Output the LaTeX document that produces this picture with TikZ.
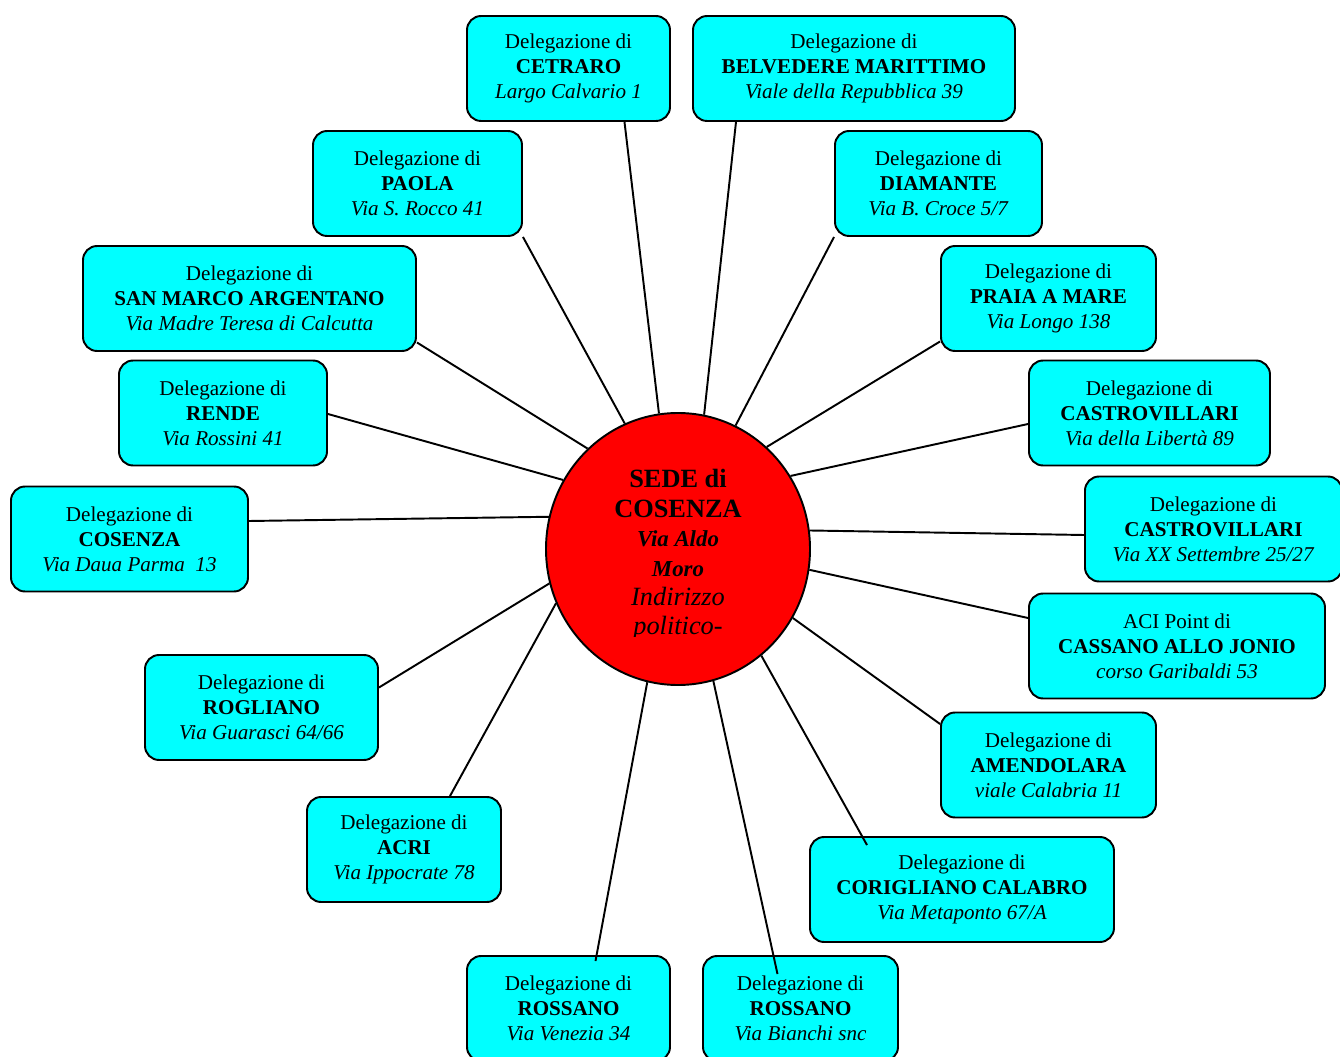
\documentclass[tikz,border=0pt]{standalone}
\usepackage{fontspec}
\setmainfont{Liberation Serif}
\usetikzlibrary{calc,shapes.geometric}
\definecolor{delegcyan}{RGB}{0,255,255}
\definecolor{sedered}{RGB}{255,0,0}
\tikzset{
  deleg/.style={draw, line width=1.1pt, fill=delegcyan, rounded corners=8pt, align=center,
    inner sep=0pt, font=\fontsize{12}{14.2}\selectfont},
  sede/.style={ellipse, draw, line width=1.1pt, fill=sedered, inner sep=0pt},
  sedetext/.style={align=center, inner sep=0pt, font=\fontsize{15}{16.7}\selectfont},
  link/.style={line width=1.1pt},
}
\begin{document}
\begin{tikzpicture}[x=0.02cm,y=-0.02cm]
  \clip (0,0) rectangle (1340,1057);
  % #1 name, #2 x, #3 y, #4 width, #5 first line, #6 place, #7 address
  \def\dlg#1#2#3#4#5#6#7{
    \node[deleg, minimum width=#4*0.02cm, minimum height=2.1cm] (#1) at (#2,#3) {#5\\\textbf{#6}\\\textit{#7}};
  }

  \dlg{cetraro}{568.5}{68.5}{203}{Delegazione di}{CETRARO}{Largo Calvario 1}
  \dlg{belvedere}{854}{68.5}{322}{Delegazione di}{BELVEDERE MARITTIMO}{Viale della Repubblica 39}
  \dlg{paola}{417.5}{183.5}{209}{Delegazione di}{PAOLA}{Via S. Rocco 41}
  \dlg{diamante}{938.5}{183.5}{207}{Delegazione di}{DIAMANTE}{Via B. Croce 5/7}
  \dlg{sanmarco}{249.5}{298.5}{333}{Delegazione di}{SAN MARCO ARGENTANO}{Via Madre Teresa di Calcutta}
  \dlg{praia}{1048.5}{298.5}{215}{Delegazione di}{PRAIA A MARE}{Via Longo 138}
  \dlg{rende}{223}{413}{208}{Delegazione di}{RENDE}{Via Rossini 41}
  \dlg{castrovillari}{1149.5}{413}{241}{Delegazione di}{CASTROVILLARI}{Via della Libertà 89}
  \dlg{cosenza}{129.5}{539}{237}{Delegazione di}{COSENZA}{Via Daua Parma~ 13}
  \dlg{castrosett}{1213.5}{529}{257}{Delegazione di}{CASTROVILLARI}{Via XX Settembre 25/27}
  \dlg{cassano}{1177}{646}{296}{ACI Point di}{CASSANO ALLO JONIO}{corso Garibaldi 53}
  \dlg{rogliano}{261.5}{707.5}{233}{Delegazione di}{ROGLIANO}{Via Guarasci 64/66}
  \dlg{amendolara}{1048.5}{765}{215}{Delegazione di}{AMENDOLARA}{viale Calabria 11}
  \dlg{acri}{404}{849.5}{194}{Delegazione di}{ACRI}{Via Ippocrate 78}
  \dlg{corigliano}{962}{889.5}{304}{Delegazione di}{CORIGLIANO CALABRO}{Via Metaponto 67/A}
  \dlg{rossano}{568.5}{1008.5}{203}{Delegazione di}{ROSSANO}{Via Venezia 34}
  \dlg{rossanob}{800.5}{1008.5}{195}{Delegazione di}{ROSSANO}{Via Bianchi snc}

  % sede centrale
  \node[sede, minimum width=264*0.02cm, minimum height=272*0.02cm] (sede) at (678,549) {};
  \begin{scope}
    \clip (540,400) rectangle (820,637);
    \node[sedetext] (sedetxt) at (678,555) {\textbf{SEDE di}\\\textbf{COSENZA}\\
      {\fontsize{13}{16}\selectfont\bfseries\itshape Via Aldo}\\
      {\fontsize{13}{16}\selectfont\bfseries\itshape Moro}\\
      \textit{Indirizzo}\\\textit{politico-}};
  \end{scope}

  \foreach \nm/\a/\an/\dx/\dy in {cetraro/98/south/56/0, belvedere/79/south/-118/0,
      paola/113/south east/0/0, diamante/65/south west/0/0, sanmarco/132/east/0/44,
      praia/49/west/0/43, rende/149/east/0/1, castrovillari/33/west/0/11,
      cosenza/166/east/0/-18, castrosett/8/west/0/6, cassano/-9/west/0/-28,
      rogliano/195/east/0/-20, amendolara/-31/west/0/-41, acri/204/north/46/0,
      corigliano/-52/north/-95/9, rossano/257/north/27/6, rossanob/285/north/-23/19}
    \draw[link] (sede.\a) -- ($(\nm.\an)+(\dx,\dy)$);
\end{tikzpicture}
\end{document}
